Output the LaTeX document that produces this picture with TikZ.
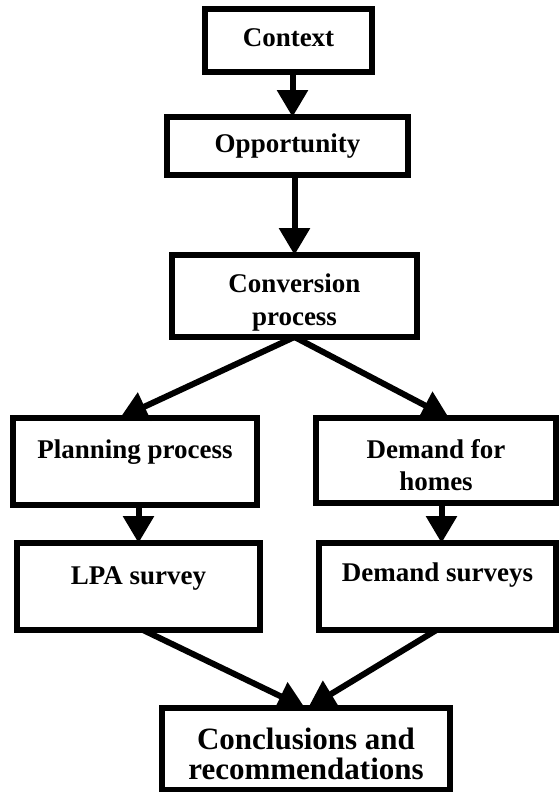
\documentclass[tikz,border=0pt]{standalone}
\usepackage{fontspec}
\setmainfont{Liberation Serif}
\usetikzlibrary{arrows.meta}
\begin{document}
\begin{tikzpicture}[x=1pt,y=-1pt,
  box/.style={draw, line width=6pt, fill=white, rectangle, inner sep=0pt,
    outer sep=0pt, align=center, font=\fontsize{27}{33}\selectfont\bfseries},
  oneline/.style={text height=19pt, text depth=#1},
  twoline/.style={text height=#1, text depth=0pt},
  flow/.style={line width=6pt, -{Triangle[length=27pt,width=30pt]}},
]
\useasboundingbox (0,0) rectangle (559,792);

% boxes
\node[box, oneline=6pt, minimum width=167pt, minimum height=63pt] (ctx) at (288.5,40.5) {Context};
\node[box, oneline=6pt, minimum width=241pt, minimum height=58pt] (opp) at (287.5,146) {Opportunity};
\node[box, twoline=58pt, minimum width=245pt, minimum height=82pt] (conv) at (294.5,296) {Conversion\\process};
\node[box, oneline=25pt, minimum width=244pt, minimum height=87pt] (plan) at (135,461.5) {Planning process};
\node[box, twoline=59pt, font=\fontsize{27}{32}\selectfont\bfseries, minimum width=240pt, minimum height=85pt] (dem) at (436,460.5) {Demand for\\homes};
\node[box, oneline=23pt, minimum width=243pt, minimum height=87pt] (lpa) at (138.5,586.5) {LPA survey};
\node[box, oneline=29pt, minimum width=237pt, minimum height=87pt] (dsv) at (437.5,586.5) {Demand surveys};
\node[box, twoline=60pt, font=\fontsize{31}{30}\selectfont\bfseries, minimum width=288pt, minimum height=82pt] (conc) at (306,749) {Conclusions and\\recommendations};

% connectors
\draw[flow] ([xshift=4pt]ctx.south) -- ([xshift=4pt]ctx.south |- opp.north);
\draw[flow] (conv.north |- opp.south) -- (conv.north);
\draw[flow] (conv.south) -- ([xshift=-15pt]plan.north);
\draw[flow] (conv.south) -- ([xshift=13pt]dem.north);
\draw[flow] (lpa.north |- plan.south) -- (lpa.north);
\draw[flow] ([xshift=4pt]dsv.north |- dem.south) -- ([xshift=4pt]dsv.north);
\draw[flow] ([xshift=4.5pt]lpa.south) -- ([xshift=-1pt]conc.north);
\draw[flow] ([xshift=-1pt]dsv.south) -- ([xshift=2pt]conc.north);
\end{tikzpicture}
\end{document}
